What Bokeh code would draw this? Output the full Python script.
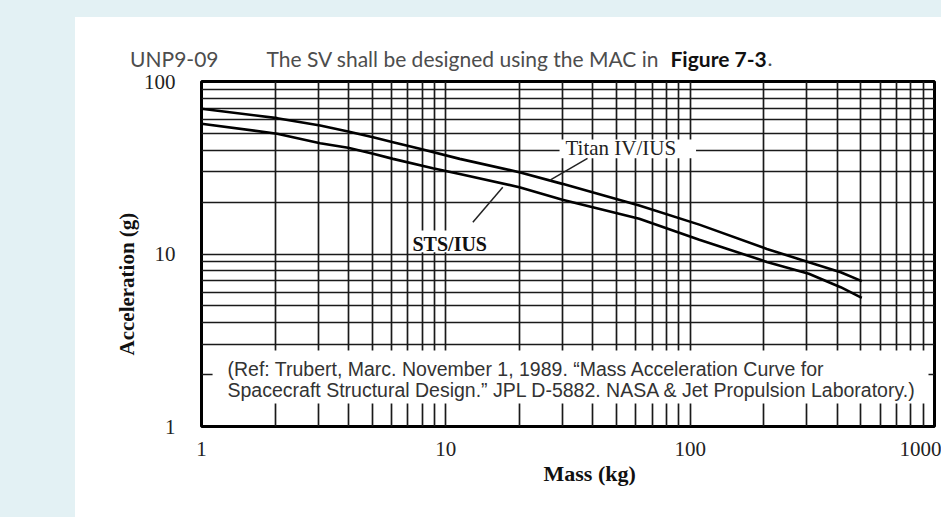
import math
from bokeh.plotting import figure
from bokeh.models import FixedTicker, Label, Spacer, Title, PrintfTickFormatter
from bokeh.layouts import row, column
from bokeh.embed import file_html
from bokeh.resources import INLINE

# ---- data ----
titan_mass = [1.0, 2.04, 3.06, 3.98, 5.04, 6.08, 7.83, 11.4, 20.0, 30.0, 39.8, 61.9, 109, 206, 306, 413, 504]
titan_acc = [69.5, 61.3, 55.6, 51.3, 47.5, 44.5, 40.7, 35.6, 29.8, 25.5, 22.8, 19.1, 14.8, 10.7, 8.96, 7.84, 6.96]

sts_mass = [1.0, 2.04, 3.06, 3.98, 5.04, 6.08, 8.85, 11.4, 20.0, 30.0, 61.9, 109, 206, 306, 413, 504]
sts_acc = [56.9, 49.8, 43.9, 41.3, 38.1, 35.6, 31.4, 29.1, 24.4, 20.6, 16.0, 12.1, 9.0, 7.68, 6.42, 5.57]

x_tick_vals = [1, 10, 100, 1000]
y_tick_vals = [1, 10, 100]
x_grid_vals = [m * 10 ** d for d in range(3) for m in range(1, 10)] + [1000]
y_grid_vals = [m * 10 ** d for d in range(2) for m in range(2, 10)] + [10, 100]

title_id = "UNP9-09"
title_main = "The SV shall be designed using the MAC in"
title_bold = "Figure 7-3"
ref_line1 = "(Ref:  Trubert, Marc.  November 1, 1989.  \u201cMass Acceleration Curve for"
ref_line2 = "Spacecraft Structural Design.\u201d  JPL D-5882.  NASA & Jet Propulsion Laboratory.)"

# annotation geometry (data units)
titan_leader_x = [38.0, 26.6]
titan_leader_y = [35.8, 26.7]
sts_leader_x = [12.9, 17.1]
sts_leader_y = [15.3, 24.4]

BG = "#e3f1f4"
SERIF = "Liberation Serif"
W = 866
TITLE_FONT = "Lato"
TITLE_SIZE = "21px"

def tlab(fig, text, x, y, font, size, color, style="normal", align="left", angle=0):
    fig.add_layout(Label(x=x, y=y, x_units="screen", y_units="screen", text=text,
                         text_font=font, text_font_size=size, text_color=color,
                         text_font_style=style, text_align=align, text_baseline="middle",
                         angle=angle))

# ---- title strip (its frame is aligned with the chart frame) ----
t = figure(width=W, height=54, x_range=(0, 1), y_range=(0, 54),
           output_backend="svg", toolbar_location=None,
           x_axis_location=None, min_border=0, min_border_left=126, min_border_right=7)
t.grid.visible = False
t.outline_line_color = None
t.background_fill_color = "white"
t.border_fill_color = "white"
t.yaxis.ticker = FixedTicker(ticks=[13], minor_ticks=[])
t.yaxis.major_label_overrides = {13: title_id}
t.yaxis.axis_line_color = None
t.yaxis.major_tick_line_color = None
t.yaxis.minor_tick_line_color = None
t.yaxis.major_tick_out = 0
t.yaxis.major_label_standoff = -17
t.yaxis.major_label_text_font = TITLE_FONT
t.yaxis.major_label_text_font_size = TITLE_SIZE
t.yaxis.major_label_text_color = "#4d4d4d"

tlab(t, title_main, 65, 13, TITLE_FONT, TITLE_SIZE, "#4d4d4d")
tlab(t, title_bold, 469, 13, TITLE_FONT, TITLE_SIZE, "#111111", style="bold")
tlab(t, ".", 566, 13, TITLE_FONT, TITLE_SIZE, "#4d4d4d")

# ---- main chart ----
p = figure(width=W, height=446, x_axis_type="log", y_axis_type="log",
           x_range=(1, 1000), y_range=(1, 100),
           output_backend="svg", toolbar_location=None,
           min_border_left=126, min_border_right=7, min_border_top=10, min_border_bottom=91)
p.background_fill_color = "white"
p.border_fill_color = "white"
p.outline_line_color = "black"
p.outline_line_width = 3

for ax, vals in ((p.xaxis, x_tick_vals), (p.yaxis, y_tick_vals)):
    ax.ticker = FixedTicker(ticks=vals, minor_ticks=[])
    ax.formatter = PrintfTickFormatter(format="%d")
    ax.axis_line_color = None
    ax.major_tick_line_color = None
    ax.minor_tick_line_color = None
    ax.major_label_text_font = SERIF
    ax.major_label_text_font_size = "21px"
    ax.major_label_text_color = "#222222"
p.xaxis.major_label_standoff = 9
p.yaxis.major_label_standoff = 20

p.xgrid.ticker = FixedTicker(ticks=x_grid_vals)
p.ygrid.ticker = FixedTicker(ticks=y_grid_vals)
for g in (p.xgrid, p.ygrid):
    g.grid_line_color = "#1a1a1a"
    g.grid_line_width = 1.7
    g.minor_grid_line_color = None

# white boxes that hide the grid under the labels
p.quad(left=[1.11], right=[945], bottom=[1.36], top=[2.76], fill_color="white", line_color=None)
p.quad(left=[29.2], right=[105.7], bottom=[35.9], top=[46.1], fill_color="white", line_color=None)
p.quad(left=[7.13], right=[15.4], bottom=[10.25], top=[13.7], fill_color="white", line_color=None)

p.line(titan_mass, titan_acc, line_color="black", line_width=2.6)
p.line(sts_mass, sts_acc, line_color="black", line_width=2.6)
p.line(titan_leader_x, titan_leader_y, line_color="#222222", line_width=1.5)
p.line(sts_leader_x, sts_leader_y, line_color="#222222", line_width=1.5)

tlab(p, "Titan IV/IUS", 364, 279, SERIF, "21px", "#222222")
tlab(p, "STS/IUS", 211, 183, SERIF, "20px", "#111111", style="bold")
tlab(p, ref_line1, 26, 58, "Liberation Sans", "19.5px", "#333333")
tlab(p, ref_line2, 26, 37, "Liberation Sans", "19.5px", "#333333")

p.add_layout(Title(text="Mass (kg)", align="left", offset=342, text_font=SERIF,
                   text_font_size="22px", text_font_style="bold", text_color="#111111",
                   standoff=0), "below")
p.add_layout(Title(text="Acceleration (g)", align="left", offset=71, text_font=SERIF,
                   text_font_size="21px", text_font_style="bold", text_color="#111111",
                   standoff=4), "left")

root = row(Spacer(width=75, height=517, styles={"background-color": BG}),
           column(Spacer(width=W, height=17, styles={"background-color": BG}), t, p))

open("out.html", "w").write(file_html(root, INLINE))
